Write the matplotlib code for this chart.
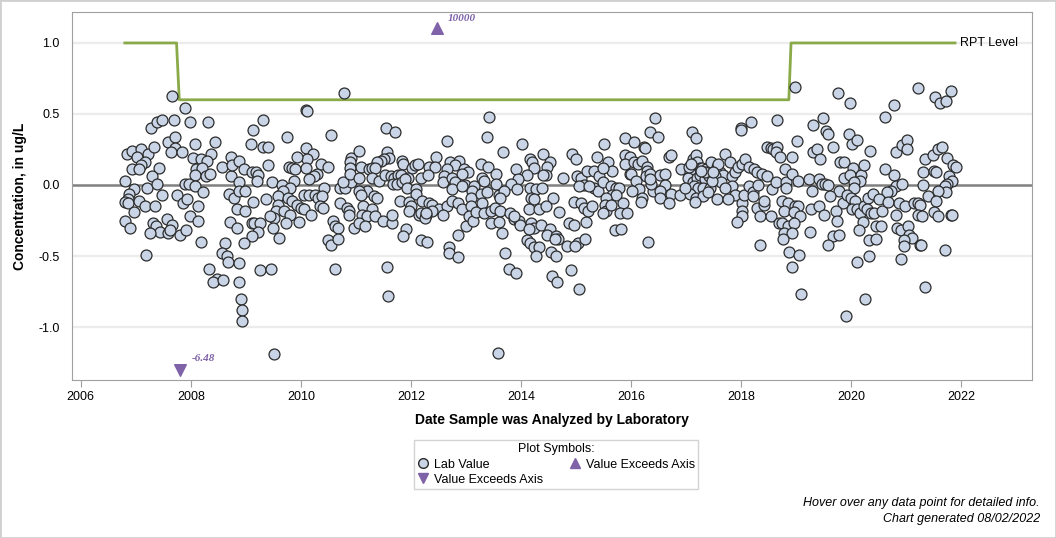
import matplotlib
matplotlib.use('Agg')
import matplotlib.pyplot as plt
from matplotlib.lines import Line2D
from matplotlib.patches import Rectangle
import numpy as np

plt.rcParams['font.family'] = ['Liberation Sans', 'DejaVu Sans']

# Lab values as (decimal year, concentration in ug/L)
lab_2007_2008 = [
    (2007.66, 0.63), (2007.89, 0.54), (2007.27, 0.40), (2007.39, 0.44), (2007.48, 0.46), (2007.69, 0.46),
    (2007.99, 0.44), (2008.32, 0.44), (2006.84, 0.22), (2006.93, 0.24), (2007.09, 0.25), (2007.03, 0.20),
    (2007.22, 0.22), (2007.16, 0.16), (2007.10, 0.14), (2006.93, 0.11), (2007.05, 0.11), (2007.33, 0.27),
    (2007.59, 0.30), (2007.72, 0.34), (2007.71, 0.26), (2007.64, 0.23), (2007.84, 0.23), (2008.07, 0.29),
    (2008.44, 0.30), (2008.36, 0.22), (2008.04, 0.19), (2008.19, 0.18), (2008.30, 0.17), (2008.10, 0.11),
    (2008.21, 0.12), (2008.07, 0.07), (2008.28, 0.06), (2008.35, 0.08), (2008.57, 0.13), (2008.73, 0.20),
    (2008.73, 0.06), (2007.42, 0.12), (2007.30, 0.06), (2006.80, 0.03), (2007.21, -0.02), (2007.39, 0.01),
    (2006.97, -0.03), (2006.87, -0.06), (2006.85, -0.10), (2006.80, -0.12), (2006.86, -0.13), (2007.05, -0.11),
    (2007.17, -0.15), (2007.35, -0.15), (2007.47, -0.07), (2006.97, -0.19), (2006.80, -0.25), (2006.89, -0.30),
    (2007.75, -0.07), (2007.89, 0.01), (2007.96, 0.01), (2008.07, -0.01), (2007.86, -0.13), (2007.93, -0.10),
    (2008.22, -0.05), (2008.13, -0.15), (2007.99, -0.22), (2008.13, -0.25), (2007.57, -0.24), (2007.65, -0.28),
    (2007.32, -0.27), (2007.36, -0.29), (2007.44, -0.33), (2007.25, -0.34), (2007.58, -0.34), (2007.62, -0.32),
    (2007.80, -0.35), (2007.91, -0.32), (2008.18, -0.40), (2007.18, -0.49), (2008.69, -0.06), (2008.71, -0.26),
    (2008.79, -0.09), (2008.62, -0.41), (2008.57, -0.48), (2008.65, -0.50), (2008.67, -0.54), (2008.33, -0.59),
    (2008.47, -0.66), (2008.41, -0.68), (2008.59, -0.67), (2008.74, 0.14),
]

lab_2009_2010 = [
    (2010.79, 0.65), (2010.09, 0.53), (2010.11, 0.52), (2009.31, 0.46), (2009.13, 0.39), (2009.74, 0.34),
    (2010.55, 0.35), (2009.10, 0.29), (2009.31, 0.27), (2009.40, 0.27), (2010.10, 0.26), (2010.22, 0.22),
    (2010.11, 0.18), (2009.93, 0.20), (2008.88, 0.17), (2008.97, 0.11), (2009.11, 0.09), (2009.18, 0.09),
    (2009.22, 0.07), (2009.21, 0.03), (2009.40, 0.14), (2009.78, 0.13), (2009.84, 0.12), (2009.90, 0.11),
    (2010.10, 0.12), (2010.29, 0.08), (2010.24, 0.06), (2010.14, 0.04), (2010.37, 0.15), (2010.49, 0.13),
    (2009.88, 0.03), (2009.48, 0.02), (2009.66, 0.00), (2009.81, -0.02), (2008.88, 0.02), (2010.42, -0.02),
    (2010.71, -0.02), (2010.81, -0.02), (2010.91, 0.02), (2010.76, 0.02), (2010.91, 0.19), (2010.89, 0.16),
    (2010.90, 0.12), (2010.90, 0.08), (2008.88, -0.04), (2008.98, -0.04), (2008.84, -0.17), (2008.99, -0.18),
    (2009.13, -0.12), (2009.37, -0.10), (2009.62, -0.07), (2009.68, -0.04), (2009.59, -0.08), (2009.76, -0.09),
    (2009.84, -0.11), (2009.93, -0.14), (2010.00, -0.16), (2010.06, -0.17), (2009.58, -0.14), (2009.55, -0.18),
    (2009.52, -0.23), (2009.70, -0.18), (2009.81, -0.21), (2010.18, -0.21), (2010.05, -0.07), (2010.14, -0.07),
    (2010.26, -0.07), (2010.32, -0.09), (2010.38, -0.08), (2010.35, -0.15), (2010.41, -0.16), (2010.71, -0.13),
    (2010.84, -0.16), (2010.88, -0.18), (2010.87, -0.21), (2008.84, -0.30), (2009.11, -0.27), (2009.15, -0.27),
    (2009.26, -0.27), (2009.23, -0.33), (2009.11, -0.36), (2008.97, -0.41), (2009.43, -0.22), (2009.49, -0.30),
    (2009.60, -0.37), (2009.73, -0.27), (2009.96, -0.26), (2010.58, -0.25), (2010.62, -0.29), (2010.68, -0.30),
    (2010.96, -0.30), (2010.50, -0.39), (2010.54, -0.42), (2010.68, -0.38), (2008.88, -0.55), (2008.88, -0.68),
    (2009.26, -0.60), (2009.46, -0.59), (2010.62, -0.59), (2008.91, -0.80), (2008.93, -0.88), (2008.93, -0.96),
    (2009.51, -1.19),
]

lab_2011_2012 = [
    (2011.55, 0.40), (2011.72, 0.37), (2012.66, 0.31), (2011.06, 0.24), (2011.57, 0.23), (2011.60, 0.19),
    (2011.52, 0.18), (2011.45, 0.17), (2011.39, 0.16), (2011.09, 0.13), (2011.24, 0.11), (2011.30, 0.12),
    (2011.35, 0.12), (2011.83, 0.17), (2011.86, 0.15), (2012.02, 0.12), (2012.07, 0.14), (2012.13, 0.15),
    (2012.46, 0.20), (2012.33, 0.13), (2012.44, 0.13), (2012.72, 0.16), (2012.87, 0.17), (2012.80, 0.14),
    (2012.66, 0.11), (2012.96, 0.11), (2013.04, 0.09), (2012.93, 0.08), (2011.06, 0.05), (2011.29, 0.05),
    (2011.42, 0.03), (2011.53, 0.07), (2011.63, 0.06), (2011.69, 0.05), (2011.77, 0.07), (2011.82, 0.07),
    (2011.95, 0.05), (2011.68, 0.01), (2011.75, 0.01), (2011.84, 0.02), (2011.89, 0.04), (2012.19, 0.05),
    (2012.32, 0.07), (2012.60, 0.06), (2012.58, 0.02), (2012.75, 0.05), (2012.81, 0.02), (2012.99, 0.00),
    (2013.15, -0.01), (2013.11, -0.04), (2011.21, -0.04), (2011.06, -0.04), (2011.93, -0.02), (2012.10, -0.03),
    (2012.10, -0.06), (2012.74, -0.03), (2012.93, -0.01), (2011.33, -0.08), (2011.39, -0.09), (2011.80, -0.11),
    (2011.96, -0.12), (2012.01, -0.15), (2012.21, -0.11), (2012.33, -0.13), (2012.38, -0.14), (2012.51, -0.17),
    (2012.39, -0.18), (2012.66, -0.15), (2012.75, -0.11), (2012.86, -0.13), (2012.92, -0.17), (2013.10, -0.09),
    (2013.09, -0.15), (2011.09, -0.07), (2011.13, -0.15), (2011.30, -0.17), (2011.12, -0.21), (2011.21, -0.22),
    (2011.35, -0.22), (2011.06, -0.27), (2011.16, -0.29), (2011.49, -0.25), (2011.65, -0.27), (2011.66, -0.21),
    (2011.96, -0.18), (2012.15, -0.21), (2012.18, -0.20), (2012.27, -0.21), (2012.26, -0.23), (2012.28, -0.20),
    (2012.58, -0.21), (2013.00, -0.29), (2013.06, -0.22), (2013.12, -0.25), (2013.18, -0.19), (2011.92, -0.31),
    (2011.86, -0.36), (2012.18, -0.39), (2012.30, -0.40), (2012.86, -0.35), (2012.69, -0.44), (2012.69, -0.48),
    (2012.86, -0.51), (2011.57, -0.58), (2011.59, -0.78),
]

lab_2013_2015 = [
    (2013.42, 0.48), (2013.38, 0.34), (2014.02, 0.29), (2013.67, 0.23), (2013.27, 0.15), (2013.41, 0.13),
    (2013.55, 0.08), (2013.30, 0.05), (2013.33, 0.03), (2014.17, 0.18), (2014.21, 0.16), (2014.24, 0.12),
    (2014.11, 0.07), (2014.40, 0.22), (2014.53, 0.16), (2014.48, 0.13), (2014.45, 0.07), (2014.41, 0.07),
    (2013.91, 0.11), (2013.95, 0.04), (2013.82, 0.01), (2013.93, -0.03), (2014.76, 0.05), (2014.92, 0.22),
    (2015.00, 0.18), (2015.02, 0.06), (2015.10, 0.05), (2015.15, 0.00), (2015.06, -0.01), (2015.21, 0.10),
    (2015.33, 0.10), (2015.39, 0.20), (2015.42, 0.06), (2015.33, -0.02), (2015.41, -0.04), (2015.24, -0.01),
    (2013.27, -0.06), (2013.39, -0.05), (2013.55, 0.01), (2013.61, -0.07), (2013.70, -0.04), (2013.62, -0.09),
    (2014.17, -0.02), (2014.27, -0.03), (2014.39, -0.02), (2014.18, -0.09), (2014.24, -0.10), (2014.15, -0.17),
    (2014.59, -0.09), (2014.33, -0.17), (2014.45, -0.15), (2014.70, -0.19), (2013.30, -0.13), (2013.33, -0.20),
    (2013.45, -0.18), (2013.52, -0.16), (2013.62, -0.18), (2013.45, -0.27), (2013.61, -0.26), (2013.65, -0.34),
    (2013.81, -0.20), (2013.88, -0.24), (2013.97, -0.25), (2013.99, -0.28), (2013.87, -0.22), (2014.19, -0.27),
    (2014.23, -0.30), (2014.15, -0.31), (2014.36, -0.28), (2014.53, -0.31), (2014.48, -0.35), (2014.64, -0.36),
    (2014.68, -0.38), (2014.62, -0.38), (2014.88, -0.27), (2014.97, -0.28), (2015.18, -0.26), (2014.96, -0.12),
    (2015.09, -0.13), (2015.15, -0.16), (2015.22, -0.18), (2015.30, -0.15), (2014.11, -0.39), (2014.17, -0.41),
    (2014.24, -0.44), (2014.33, -0.44), (2014.27, -0.50), (2014.55, -0.47), (2014.64, -0.50), (2014.84, -0.43),
    (2015.03, -0.41), (2015.16, -0.38), (2014.98, -0.43), (2013.71, -0.48), (2013.79, -0.59), (2013.91, -0.62),
    (2014.56, -0.64), (2014.65, -0.68), (2014.91, -0.60), (2015.05, -0.73), (2013.59, -1.18),
]

lab_2015_2017 = [
    (2016.44, 0.47), (2016.35, 0.37), (2016.50, 0.34), (2017.11, 0.37), (2017.19, 0.33), (2015.51, 0.29),
    (2015.89, 0.33), (2016.06, 0.30), (2016.23, 0.27), (2016.25, 0.26), (2016.69, 0.20), (2016.73, 0.21),
    (2015.89, 0.21), (2015.99, 0.20), (2015.89, 0.15), (2016.05, 0.16), (2016.13, 0.15), (2016.21, 0.17),
    (2016.29, 0.13), (2016.30, 0.10), (2016.27, 0.06), (2016.35, 0.08), (2015.59, 0.16), (2015.66, 0.10),
    (2015.49, 0.12), (2015.99, 0.08), (2016.01, 0.08), (2016.10, 0.03), (2016.15, -0.03), (2016.02, -0.04),
    (2016.53, 0.07), (2016.62, 0.08), (2016.62, 0.00), (2016.40, -0.04), (2016.53, -0.04), (2016.72, -0.06),
    (2016.37, 0.01), (2016.34, 0.04), (2016.53, -0.09), (2016.70, -0.13), (2016.21, -0.09), (2016.19, -0.12),
    (2015.49, 0.02), (2015.64, -0.01), (2015.72, -0.02), (2015.78, -0.02), (2015.66, -0.07), (2015.73, -0.07),
    (2015.54, -0.09), (2015.52, -0.14), (2015.55, -0.18), (2015.50, -0.20), (2015.64, -0.14), (2015.85, -0.13),
    (2015.81, -0.20), (2015.93, -0.20), (2015.71, -0.32), (2015.82, -0.31), (2016.31, -0.40), (2016.90, -0.07),
    (2016.91, 0.11), (2017.12, 0.18), (2017.19, 0.21), (2017.20, 0.16), (2017.25, 0.12), (2017.30, 0.12),
    (2017.07, 0.09), (2017.04, 0.05), (2017.13, 0.02), (2017.20, 0.05), (2017.26, 0.07), (2017.37, 0.11),
    (2017.46, 0.16), (2017.56, 0.13), (2017.62, 0.09), (2017.68, 0.07), (2017.34, 0.04), (2017.42, 0.06),
    (2017.52, 0.06), (2017.64, 0.02), (2017.14, -0.01), (2017.22, -0.02), (2017.31, -0.02), (2017.43, -0.02),
    (2017.08, -0.06), (2017.18, -0.09), (2017.31, -0.08), (2017.16, -0.12), (2017.56, -0.10), (2016.99, -0.02),
    (2017.58, 0.15), (2017.05, 0.13), (2017.10, 0.15), (2017.35, 0.09), (2017.48, 0.03), (2017.40, -0.05),
    (2017.27, 0.10), (2017.50, 0.09),
]

lab_2018_2019 = [
    (2018.98, 0.69), (2019.77, 0.65), (2018.00, 0.40), (2018.00, 0.39), (2018.18, 0.44), (2018.65, 0.46),
    (2019.31, 0.42), (2019.50, 0.47), (2019.54, 0.38), (2019.59, 0.36), (2019.02, 0.31), (2018.47, 0.27),
    (2018.55, 0.26), (2018.59, 0.25), (2018.65, 0.27), (2018.63, 0.23), (2018.71, 0.20), (2018.93, 0.20),
    (2019.31, 0.23), (2019.39, 0.25), (2019.44, 0.18), (2019.67, 0.27), (2019.80, 0.16), (2019.88, 0.16),
    (2017.71, 0.22), (2017.80, 0.16), (2017.84, 0.06), (2017.89, 0.09), (2017.95, 0.13), (2018.01, 0.15),
    (2018.08, 0.18), (2018.15, 0.13), (2018.23, 0.11), (2018.30, 0.09), (2018.39, 0.08), (2018.48, 0.06),
    (2017.83, -0.01), (2017.71, -0.02), (2017.89, -0.07), (2017.76, -0.10), (2018.02, -0.13), (2018.02, -0.18),
    (2018.02, -0.22), (2017.92, -0.26), (2018.06, -0.07), (2018.15, -0.01), (2018.22, -0.05), (2018.22, -0.08),
    (2018.31, 0.00), (2018.30, -0.16), (2018.42, -0.14), (2018.42, -0.11), (2018.35, -0.22), (2018.55, -0.22),
    (2018.35, -0.42), (2018.56, -0.03), (2018.63, 0.02), (2018.80, 0.11), (2018.81, 0.02), (2018.82, -0.02),
    (2018.92, 0.08), (2019.04, 0.03), (2019.24, 0.04), (2019.30, -0.04), (2019.42, 0.04), (2019.47, 0.01),
    (2019.52, 0.01), (2019.58, 0.00), (2019.78, -0.04), (2019.88, 0.05), (2019.86, -0.13), (2018.75, -0.11),
    (2018.86, -0.13), (2018.79, -0.18), (2018.98, -0.15), (2019.04, -0.15), (2018.97, -0.19), (2019.08, -0.22),
    (2019.28, -0.17), (2019.41, -0.15), (2019.51, -0.21), (2019.61, -0.08), (2019.72, -0.18), (2019.74, -0.25),
    (2018.69, -0.27), (2018.75, -0.27), (2018.85, -0.29), (2018.97, -0.27), (2018.79, -0.34), (2018.92, -0.34),
    (2018.77, -0.38), (2019.26, -0.33), (2019.68, -0.36), (2019.78, -0.35), (2019.59, -0.42), (2018.88, -0.47),
    (2019.06, -0.49), (2018.93, -0.58), (2019.09, -0.77), (2019.90, -0.92),
]

lab_2020_2021 = [
    (2021.22, 0.68), (2021.53, 0.62), (2021.62, 0.58), (2021.73, 0.59), (2021.81, 0.66), (2019.98, 0.58),
    (2020.78, 0.56), (2020.62, 0.48), (2019.96, 0.36), (2020.02, 0.29), (2020.11, 0.32), (2020.35, 0.24),
    (2020.81, 0.23), (2020.93, 0.28), (2021.01, 0.32), (2021.01, 0.25), (2021.35, 0.18), (2021.49, 0.21),
    (2021.59, 0.25), (2021.66, 0.27), (2021.75, 0.19), (2021.85, 0.14), (2021.91, 0.13), (2021.79, 0.06),
    (2021.84, 0.03), (2021.75, 0.01), (2021.70, -0.01), (2021.72, -0.05), (2021.58, -0.04), (2021.31, 0.09),
    (2021.51, 0.10), (2021.55, 0.09), (2021.31, 0.00), (2020.04, 0.12), (2019.99, 0.07), (2020.18, 0.07),
    (2020.24, 0.14), (2020.17, 0.03), (2020.06, 0.02), (2020.05, -0.02), (2020.62, 0.11), (2020.78, 0.07),
    (2020.81, -0.01), (2020.73, -0.04), (2020.65, -0.05), (2020.93, 0.01), (2019.93, -0.07), (2020.00, -0.09),
    (2020.08, -0.11), (2020.02, -0.17), (2020.10, -0.17), (2020.16, -0.20), (2020.23, -0.15), (2020.30, -0.09),
    (2020.40, -0.06), (2020.29, -0.17), (2020.36, -0.20), (2020.41, -0.20), (2020.50, -0.10), (2020.56, -0.18),
    (2020.68, -0.12), (2020.87, -0.13), (2020.99, -0.15), (2021.14, -0.13), (2021.21, -0.13), (2021.26, -0.14),
    (2021.21, -0.21), (2021.29, -0.22), (2021.40, -0.08), (2021.55, -0.11), (2021.50, -0.19), (2021.59, -0.22),
    (2021.81, -0.21), (2021.83, -0.21), (2020.81, -0.21), (2020.22, -0.26), (2020.14, -0.32), (2020.46, -0.29),
    (2020.55, -0.29), (2020.84, -0.30), (2020.91, -0.32), (2021.04, -0.29), (2021.05, -0.35), (2021.10, -0.37),
    (2020.97, -0.39), (2020.96, -0.43), (2020.32, -0.39), (2020.46, -0.38), (2021.26, -0.42), (2021.27, -0.42),
    (2020.10, -0.54), (2020.33, -0.50), (2020.91, -0.52), (2021.70, -0.46), (2021.35, -0.72), (2020.26, -0.80),
]

# reporting level step line
rpt_dates = [2006.80, 2007.74, 2007.79, 2018.87, 2018.91, 2021.89]
rpt_levels = [1.0, 1.0, 0.6, 0.6, 1.0, 1.0]

# values off the axis: drawn at the axis edge with the real value as a label
over_date, over_plot_y, over_label = 2012.47, 1.105, '10000'
under_date, under_plot_y, under_label = 2007.81, -1.30, '-6.48'

x_ticks = [2006, 2008, 2010, 2012, 2014, 2016, 2018, 2020, 2022]
y_ticks = [-1.0, -0.5, 0.0, 0.5, 1.0]

pts = np.array(lab_2007_2008 + lab_2009_2010 + lab_2011_2012 + lab_2013_2015
               + lab_2015_2017 + lab_2018_2019 + lab_2020_2021)

purple = '#7f62a8'
green = '#8aaa4a'
face = '#c9d5e6'

fig = plt.figure(figsize=(10.56, 5.38), dpi=100)
ax = fig.add_axes([72 / 1056, 1 - 380 / 538, 960 / 1056, 368 / 538])

ax.set_xlim(2005.84, 2023.29)
ax.set_ylim(-1.373, 1.218)

for y in [-1.0, -0.5, 0.5, 1.0]:
    ax.axhline(y, color='#ececec', lw=1.6, zorder=0)
ax.axhline(0, color='#808080', lw=1.8, zorder=1)

ax.plot(rpt_dates, rpt_levels, color=green, lw=2, zorder=2)
ax.text(rpt_dates[-1] + 0.1, rpt_levels[-1], 'RPT Level', fontsize=9, va='center', ha='left')

ax.scatter(pts[:, 0], pts[:, 1], s=62, facecolor=face, edgecolor='#2b2b2b', linewidths=0.9, zorder=3)

ax.scatter([over_date], [over_plot_y], marker='^', s=70, color=purple, zorder=4)
ax.annotate(over_label, (over_date, over_plot_y), xytext=(8, 7), textcoords='offset points',
            ha='left', va='center', color=purple, fontsize=8, fontweight='bold', style='italic',
            family=['Liberation Serif', 'DejaVu Serif'])
ax.scatter([under_date], [under_plot_y], marker='v', s=70, color=purple, zorder=4)
ax.annotate(under_label, (under_date, under_plot_y), xytext=(8, 8), textcoords='offset points',
            ha='left', va='center', color=purple, fontsize=8, fontweight='bold', style='italic',
            family=['Liberation Serif', 'DejaVu Serif'])

ax.set_xticks(x_ticks)
ax.set_yticks(y_ticks)
ax.set_yticklabels(['%.1f' % v for v in y_ticks])
ax.tick_params(axis='x', length=5, color='#a0a0a0', labelsize=9, pad=3)
ax.tick_params(axis='y', length=0, labelsize=9, pad=9)
for s in ax.spines.values():
    s.set_color('#a0a0a0')

ax.set_xlabel('Date Sample was Analyzed by Laboratory', fontsize=10, fontweight='bold', labelpad=7)
ax.set_ylabel('Concentration, in ug/L', fontsize=10, fontweight='bold', labelpad=8)

# legend under the plot
handles = [
    Line2D([], [], marker='o', ls='none', markersize=7, markerfacecolor=face, markeredgecolor='#2b2b2b'),
    Line2D([], [], marker='v', ls='none', markersize=7, color=purple),
    Line2D([], [], marker='^', ls='none', markersize=7, color=purple),
]
labels = ['Lab Value', 'Value Exceeds Axis', 'Value Exceeds Axis']
leg = fig.legend(handles, labels, ncol=2, loc='upper center', bbox_to_anchor=(556 / 1056, 1 - 434 / 538),
                 title='Plot Symbols:', fontsize=9, title_fontsize=9, frameon=True, fancybox=False,
                 edgecolor='#c8c8c8', handletextpad=0.4, columnspacing=2.0, labelspacing=0.25,
                 borderpad=0.25, handlelength=1.0)
leg.get_frame().set_linewidth(1)

fig.text(1040 / 1056, 1 - 503 / 538, 'Hover over any data point for detailed info.', ha='right', va='center',
         fontsize=9, style='italic')
fig.text(1040 / 1056, 1 - 519 / 538, 'Chart generated 08/02/2022', ha='right', va='center',
         fontsize=9, style='italic')

fig.patches.append(Rectangle((0, 0), 1, 1, transform=fig.transFigure, fill=False,
                             edgecolor='#d0d0d0', lw=2))

fig.savefig('out.png', dpi=100)
